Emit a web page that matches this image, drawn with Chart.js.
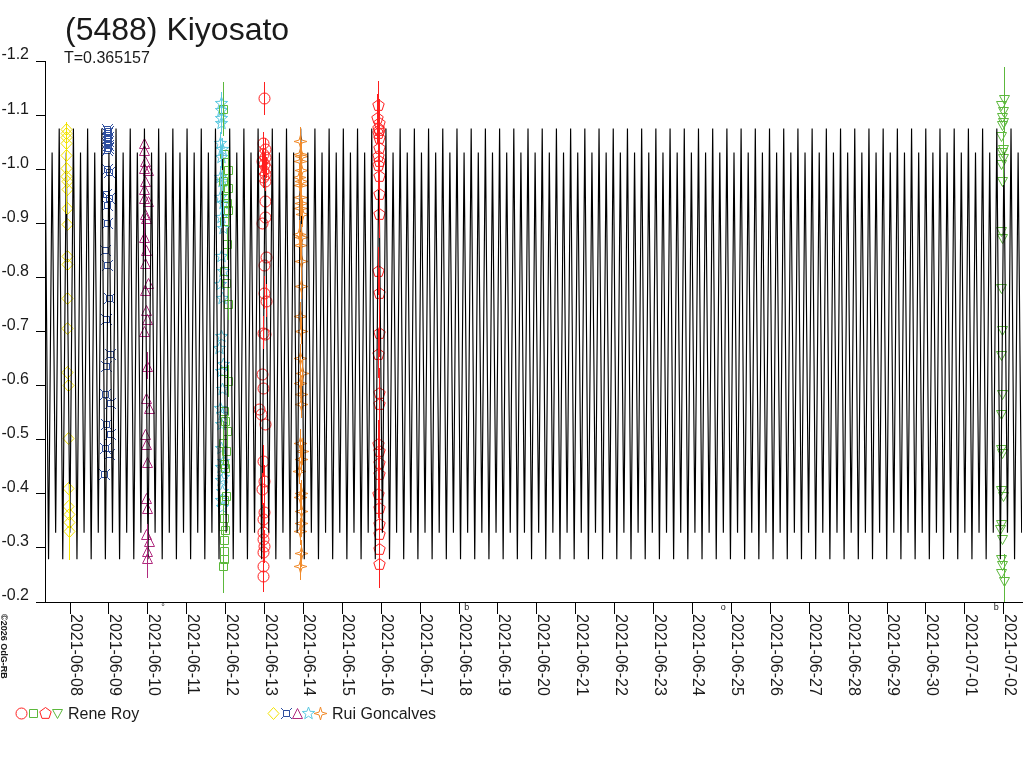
<!DOCTYPE html>
<html>
<head>
<meta charset="utf-8">
<script src="https://cdn.jsdelivr.net/npm/chart.js@4.4.1/dist/chart.umd.min.js"></script>
<style>
  html, body { margin: 0; padding: 0; background: #fff; }
  canvas { display: block; }
</style>
</head>
<body>
<canvas id="chart" width="1024" height="768"></canvas>
<script>
// Datos (días desde 2021-06-08 0h UT, magnitud relativa)
const titleText = '(5488) Kiyosato';
const periodText = 'T=0.365157';
const period = 0.365157;
const curveShape = [-1.075, -0.279, -1.031, -0.328];
const xMin = -0.643, xMax = 24.47;

const tickDates = ['2021-06-08', '2021-06-09', '2021-06-10', '2021-06-11', '2021-06-12', '2021-06-13',
  '2021-06-14', '2021-06-15', '2021-06-16', '2021-06-17', '2021-06-18', '2021-06-19', '2021-06-20',
  '2021-06-21', '2021-06-22', '2021-06-23', '2021-06-24', '2021-06-25', '2021-06-26', '2021-06-27',
  '2021-06-28', '2021-06-29', '2021-06-30', '2021-07-01', '2021-07-02'];

const markT = [2.39, 10.2, 16.79, 23.81];
const markS = ['°', 'b', 'o', 'b'];

// Rui Goncalves
const yelT = [-0.10,-0.10,-0.095,-0.10,-0.095,-0.10,-0.095,-0.09,-0.085,-0.09,-0.08,-0.075,-0.08,-0.07,-0.065,-0.07,-0.06,-0.055,-0.04,-0.045,-0.035,-0.02,-0.03];
const yelV = [-1.075,-1.066,-1.059,-1.049,-1.027,-1.002,-0.987,-0.979,-0.964,-0.929,-0.898,-0.840,-0.824,-0.761,-0.706,-0.625,-0.601,-0.503,-0.411,-0.377,-0.363,-0.348,-0.331];
const yelE = [0,0,0,0,0,0.085,0,0,0,0,0,0,0,0,0,0,0,0,0,0,0,0.07,0];

const bluT = [0.95,0.97,0.96,0.98,0.95,0.97,0.96,0.98,0.97,0.95,0.94,1.00,0.93,0.99,0.95,0.94,0.90,0.95,1.00,0.93,1.03,0.92,0.89,1.02,0.93,1.04,0.91,1.00,0.88];
const bluV = [-1.075,-1.070,-1.066,-1.060,-1.057,-1.052,-1.049,-1.044,-1.040,-1.035,-1.001,-0.994,-0.955,-0.946,-0.933,-0.900,-0.850,-0.822,-0.761,-0.724,-0.659,-0.637,-0.585,-0.568,-0.529,-0.510,-0.484,-0.473,-0.436];

const magT = [1.89,1.89,1.93,1.90,2.00,1.93,1.90,1.90,2.01,1.92,1.95,1.91,1.96,1.93,2.00,1.92,1.95,1.99,1.91,1.98,1.95,2.02,1.94,1.96,1.99,1.95,1.97,1.96,2.02,1.98,1.97];
const magV = [-1.048,-1.035,-1.016,-1.003,-0.998,-0.979,-0.964,-0.946,-0.942,-0.918,-0.909,-0.874,-0.850,-0.827,-0.790,-0.776,-0.739,-0.724,-0.701,-0.637,-0.577,-0.559,-0.510,-0.492,-0.458,-0.392,-0.373,-0.325,-0.312,-0.294,-0.281];
const magE = [0,0,0,0,0,0,0,0,0,0,0,0.035,0,0,0,0,0,0,0,0.025,0,0,0,0,0,0,0,0,0,0.05,0];

const cyaT = [3.87,3.88,3.87,3.89,3.86,3.90,3.88,3.85,3.91,3.86,3.92,3.88,3.94,3.87,3.93,3.86,3.90,3.88,3.84,3.92,3.87,3.90,3.86,3.91,3.88,3.89,3.93,3.87,3.92,3.88,3.90,3.89,3.91];
const cyaV = [-1.122,-1.109,-1.094,-1.085,-1.049,-1.038,-1.022,-0.985,-0.979,-0.948,-0.938,-0.911,-0.892,-0.840,-0.812,-0.788,-0.762,-0.692,-0.670,-0.640,-0.627,-0.594,-0.559,-0.548,-0.529,-0.485,-0.461,-0.450,-0.431,-0.425,-0.406,-0.388,-0.375];
const cyaE = [0.02,0.02,0.02,0.02,0.02,0.02,0.02,0.02,0.02,0.02,0.02,0.02,0,0,0,0,0,0,0,0,0,0,0,0,0,0,0,0,0,0,0,0,0];

const oraT = [5.92,5.90,5.94,5.91,5.93,5.89,5.95,5.92,5.90,5.94,5.91,5.96,5.88,5.93,5.90,5.95,5.93,5.91,5.94,5.92,5.97,5.90,5.95,5.93,5.91,5.96,5.93,5.89,5.94,5.92,5.95,5.93,5.91,5.94,5.92];
const oraV = [-1.053,-1.029,-1.025,-1.016,-0.998,-0.985,-0.979,-0.970,-0.948,-0.938,-0.929,-0.918,-0.881,-0.874,-0.859,-0.831,-0.785,-0.729,-0.701,-0.651,-0.624,-0.605,-0.585,-0.566,-0.494,-0.479,-0.465,-0.443,-0.401,-0.395,-0.368,-0.346,-0.331,-0.290,-0.266];
const oraE = oraV.map(() => 0.025);

// Rene Roy
const redT = [4.99,4.95,5.00,4.97,5.02,4.94,4.99,5.03,4.96,5.00,4.95,5.01,5.02,5.00,4.93,5.03,4.98,4.99,5.04,4.95,5.01,4.94,4.97,4.87,4.92,5.02,4.96,4.98,4.93,4.99,4.95,4.97,4.96,4.98,4.95,4.97,4.96];
const redV = [-1.131,-1.048,-1.038,-1.029,-1.022,-1.016,-1.010,-1.003,-0.998,-0.992,-0.985,-0.979,-0.942,-0.911,-0.901,-0.837,-0.822,-0.772,-0.757,-0.698,-0.696,-0.622,-0.596,-0.557,-0.548,-0.529,-0.461,-0.424,-0.409,-0.366,-0.353,-0.329,-0.316,-0.303,-0.292,-0.266,-0.248];
const redE = [0.03,0.02,0.02,0.02,0.02,0.02,0.02,0.02,0.02,0.02,0.02,0.02,0,0,0,0,0,0.03,0.03,0.03,0,0,0,0,0,0,0.03,0.03,0.03,0.03,0.03,0.03,0.03,0.03,0.03,0.03,0.03];

const grnT = [3.93,3.96,4.05,3.94,4.07,3.95,4.03,4.06,3.96,4.04,3.95,4.02,4.06,3.96,4.05,3.95,3.98,4.04,3.94,4.02,3.96,3.99,4.01,3.95,3.97,3.93,3.98,3.96,3.95,3.97,3.94];
const grnV = [-1.112,-1.029,-0.998,-0.979,-0.966,-0.946,-0.938,-0.924,-0.905,-0.862,-0.812,-0.790,-0.751,-0.627,-0.609,-0.553,-0.535,-0.516,-0.494,-0.479,-0.455,-0.447,-0.396,-0.388,-0.356,-0.341,-0.334,-0.315,-0.294,-0.279,-0.266];
const grnE = [0.05,0,0.03,0.04,0.03,0,0,0.03,0,0.03,0,0,0.03,0,0.03,0,0,0.03,0.04,0,0,0,0,0,0,0.04,0,0,0,0,0.05];

const penT = [7.92,7.90,7.93,7.91,7.94,7.92,7.95,7.93,7.91,7.94,7.92,7.95,7.93,7.94,7.92,7.93,7.94,7.92,7.93,7.95,7.92,7.94,7.93,7.95,7.92,7.94,7.93,7.95,7.94,7.93];
const penV = [-1.118,-1.094,-1.085,-1.077,-1.072,-1.066,-1.057,-1.040,-1.025,-1.016,-1.007,-0.988,-0.955,-0.918,-0.812,-0.772,-0.698,-0.659,-0.587,-0.566,-0.492,-0.479,-0.457,-0.436,-0.400,-0.374,-0.344,-0.326,-0.298,-0.270];
const penE = penV.map(() => 0.045);

const triT = [24.00,23.94,23.97,23.95,23.98,23.96,23.93,23.97,23.95,23.99,23.94,23.96,23.92,23.95,23.93,23.95,23.94,23.96,23.93,23.92,23.96,23.94,23.97,23.93,23.91,23.95,23.93,23.96,23.94,24.00];
const triV = [-1.129,-1.118,-1.107,-1.096,-1.088,-1.081,-1.061,-1.038,-1.031,-1.020,-1.009,-0.979,-0.885,-0.872,-0.781,-0.703,-0.657,-0.585,-0.548,-0.483,-0.476,-0.407,-0.396,-0.344,-0.335,-0.316,-0.279,-0.268,-0.253,-0.238];
const triE = [0.06,0,0,0,0,0,0,0,0,0.05,0,0,0,0,0,0,0,0,0,0,0,0,0,0,0,0,0,0,0,0.05];

// Colores
const cRed = '#ff1e1e', cGreen = '#5cb83c', cYellow = '#f2e200', cBlue = '#2e4e9e',
  cMag = '#b02a7e', cCyan = '#5cc8e0', cOrange = '#f08a2a';
const FONT = "'Liberation Sans', Arial, sans-serif";

// Marcadores dibujados en canvas chicos (15x15, centro en 7.5)
function mk(color, draw) {
  const c = document.createElement('canvas');
  c.width = 15; c.height = 15;
  const g = c.getContext('2d');
  g.strokeStyle = color; g.lineWidth = 1;
  g.beginPath(); draw(g); g.stroke();
  return c;
}
const poly = (g, pts) => { pts.forEach(([x, y], i) => i ? g.lineTo(x, y) : g.moveTo(x, y)); g.closePath(); };
const starPts = (n, ro, ri, a0) => Array.from({ length: 2 * n }, (_, i) => {
  const r = i % 2 ? ri : ro, a = a0 + i * Math.PI / n;
  return [7.5 + r * Math.cos(a), 7.5 + r * Math.sin(a)];
});
const ngonPts = (n, r, a0) => Array.from({ length: n }, (_, i) => {
  const a = a0 + i * 2 * Math.PI / n;
  return [7.5 + r * Math.cos(a), 7.5 + r * Math.sin(a)];
});

const mCircle = mk(cRed, g => g.arc(7.5, 7.5, 5.5, 0, Math.PI * 2));
const mSquare = mk(cGreen, g => g.rect(3.5, 3.5, 8, 8));
const mPenta = mk(cRed, g => poly(g, ngonPts(5, 6, -Math.PI / 2)));
const mTriDown = mk(cGreen, g => poly(g, [[2.5, 3.5], [12.5, 3.5], [7.5, 12.5]]));
const mDiamond = mk(cYellow, g => poly(g, [[7.5, 1.5], [13, 7.5], [7.5, 13.5], [2, 7.5]]));
const mCurrency = mk(cBlue, g => {
  g.rect(4.5, 4.5, 6, 6);
  g.moveTo(4.5, 4.5); g.lineTo(2, 2); g.moveTo(10.5, 4.5); g.lineTo(13, 2);
  g.moveTo(4.5, 10.5); g.lineTo(2, 13); g.moveTo(10.5, 10.5); g.lineTo(13, 13);
});
const mTriUp = mk(cMag, g => poly(g, [[7.5, 2.5], [12.5, 12.5], [2.5, 12.5]]));
const mStar = mk(cCyan, g => poly(g, starPts(5, 6.5, 2.7, -Math.PI / 2)));
const mStar4 = mk(cOrange, g => poly(g, starPts(4, 6.5, 2, -Math.PI / 2)));

// Curva modelo: la forma de un período repetida con T
const curve = [];
for (let k = 0; xMin + k * period / 4 <= xMax; k++) {
  curve.push({ x: xMin + k * period / 4, y: curveShape[k % 4] });
}

const pts = (t, v) => t.map((x, i) => ({ x, y: v[i] }));
const serie = (t, v, e, color, img) => ({
  type: 'scatter', data: pts(t, v), err: e, errColor: color, img,
  pointRadius: 0, order: 1
});

const datasets = [
  { type: 'line', data: curve, borderColor: '#000', borderWidth: 1.15, pointRadius: 0, tension: 0, order: 0, isCurve: true },
  serie(yelT, yelV, yelE, cYellow, mDiamond),
  serie(bluT, bluV, null, cBlue, mCurrency),
  serie(magT, magV, magE, cMag, mTriUp),
  serie(cyaT, cyaV, cyaE, cCyan, mStar),
  serie(oraT, oraV, oraE, cOrange, mStar4),
  serie(grnT, grnV, grnE, cGreen, mSquare),
  serie(redT, redV, redE, cRed, mCircle),
  serie(penT, penV, penE, cRed, mPenta),
  serie(triT, triV, triE, cGreen, mTriDown)
];

function clipArea(chart) {
  const { ctx, chartArea: a } = chart;
  ctx.beginPath(); ctx.rect(a.left, a.top, a.right - a.left, a.bottom - a.top); ctx.clip();
}

// Marcadores antes de la curva, barras de error encima
const obsPoints = {
  id: 'obsPoints',
  beforeDatasetDraw(chart, args) {
    if (!chart.data.datasets[args.index].isCurve) return;
    const ctx = chart.ctx;
    ctx.save();
    clipArea(chart);
    chart.data.datasets.forEach((ds, di) => {
      if (!ds.img) return;
      chart.getDatasetMeta(di).data.forEach(el => {
        ctx.drawImage(ds.img, Math.round(el.x) - 7, Math.round(el.y) - 7);
      });
    });
    ctx.restore();
  },
  afterDatasetDraw(chart, args) {
    if (!chart.data.datasets[args.index].isCurve) return;
    const { ctx, scales: { y } } = chart;
    ctx.save();
    clipArea(chart);
    ctx.lineWidth = 1;
    chart.data.datasets.forEach((ds, di) => {
      if (!ds.err) return;
      const els = chart.getDatasetMeta(di).data;
      ctx.strokeStyle = ds.errColor;
      ds.data.forEach((p, i) => {
        const e = ds.err[i];
        if (!e) return;
        const px = Math.round(els[i].x) + 0.5;
        ctx.beginPath();
        ctx.moveTo(px, Math.round(y.getPixelForValue(p.y - e)));
        ctx.lineTo(px, Math.round(y.getPixelForValue(p.y + e)));
        ctx.stroke();
      });
    });
    ctx.restore();
  }
};

// Textos: título, período, fechas verticales, marcas y créditos
const texts = {
  id: 'texts',
  afterDraw(chart) {
    const { ctx, scales: { x } } = chart;
    ctx.save();
    ctx.fillStyle = '#1a1a1a';
    ctx.textAlign = 'left';
    ctx.textBaseline = 'alphabetic';
    ctx.font = `32px ${FONT}`;
    ctx.fillText(titleText, 65, 40);
    ctx.font = `16px ${FONT}`;
    ctx.fillText(periodText, 64, 63);

    tickDates.forEach((d, i) => {
      const px = Math.round(x.getPixelForValue(i));
      ctx.save();
      ctx.translate(px + 1, 614);
      ctx.rotate(Math.PI / 2);
      ctx.font = `16px ${FONT}`;
      ctx.fillText(d, 0, 0);
      ctx.restore();
    });

    ctx.font = `9px ${FONT}`;
    ctx.textAlign = 'center';
    ctx.textBaseline = 'middle';
    markT.forEach((t, i) => ctx.fillText(markS[i], x.getPixelForValue(t), 608));

    ctx.save();
    ctx.translate(1, 614);
    ctx.rotate(Math.PI / 2);
    ctx.textAlign = 'left';
    ctx.textBaseline = 'alphabetic';
    ctx.font = `bold 9px ${FONT}`;
    ctx.fillText('©2026 OdG-RB', 0, 0);
    ctx.restore();
    ctx.restore();
  }
};

// Leyenda por observador
const legendGroups = [
  { name: 'Rene Roy', marks: [mCircle, mSquare, mPenta, mTriDown], xs: [21, 33, 45, 57], textX: 68 },
  { name: 'Rui Goncalves', marks: [mDiamond, mCurrency, mTriUp, mStar, mStar4], xs: [273, 286, 297, 308, 320], textX: 332 }
];
const legendPlugin = {
  id: 'legendPlugin',
  afterDraw(chart) {
    const ctx = chart.ctx;
    ctx.save();
    legendGroups.forEach(gr => {
      gr.marks.forEach((m, i) => ctx.drawImage(m, gr.xs[i] - 7, 706));
      ctx.fillStyle = '#1a1a1a';
      ctx.font = `16px ${FONT}`;
      ctx.textBaseline = 'alphabetic';
      ctx.fillText(gr.name, gr.textX, 719);
    });
    ctx.restore();
  }
};

new Chart(document.getElementById('chart'), {
  type: 'scatter',
  data: { datasets },
  options: {
    responsive: false,
    animation: false,
    devicePixelRatio: 1,
    events: [],
    layout: { padding: { top: 61, right: 2, left: 0, bottom: 0 } },
    plugins: { legend: { display: false }, tooltip: { enabled: false }, title: { display: false } },
    scales: {
      x: {
        type: 'linear',
        min: xMin,
        max: xMax,
        afterFit(s) { s.height = 166; },
        border: { color: '#000', width: 1 },
        grid: { drawOnChartArea: false, drawTicks: true, tickLength: 12, color: '#000' },
        ticks: { stepSize: 1, includeBounds: false, autoSkip: false, maxRotation: 0, padding: 0, callback: () => '' }
      },
      y: {
        type: 'linear',
        reverse: true,
        min: -1.2,
        max: -0.2,
        afterFit(s) { s.width = 45; },
        border: { color: '#000', width: 1 },
        grid: { drawOnChartArea: false, drawTicks: true, tickLength: 9, color: '#000' },
        ticks: {
          stepSize: 0.1, padding: 7, labelOffset: -6, color: '#1a1a1a',
          font: { family: FONT, size: 16 },
          callback: v => v.toFixed(1)
        }
      }
    }
  },
  plugins: [obsPoints, texts, legendPlugin]
});
</script>
</body>
</html>
